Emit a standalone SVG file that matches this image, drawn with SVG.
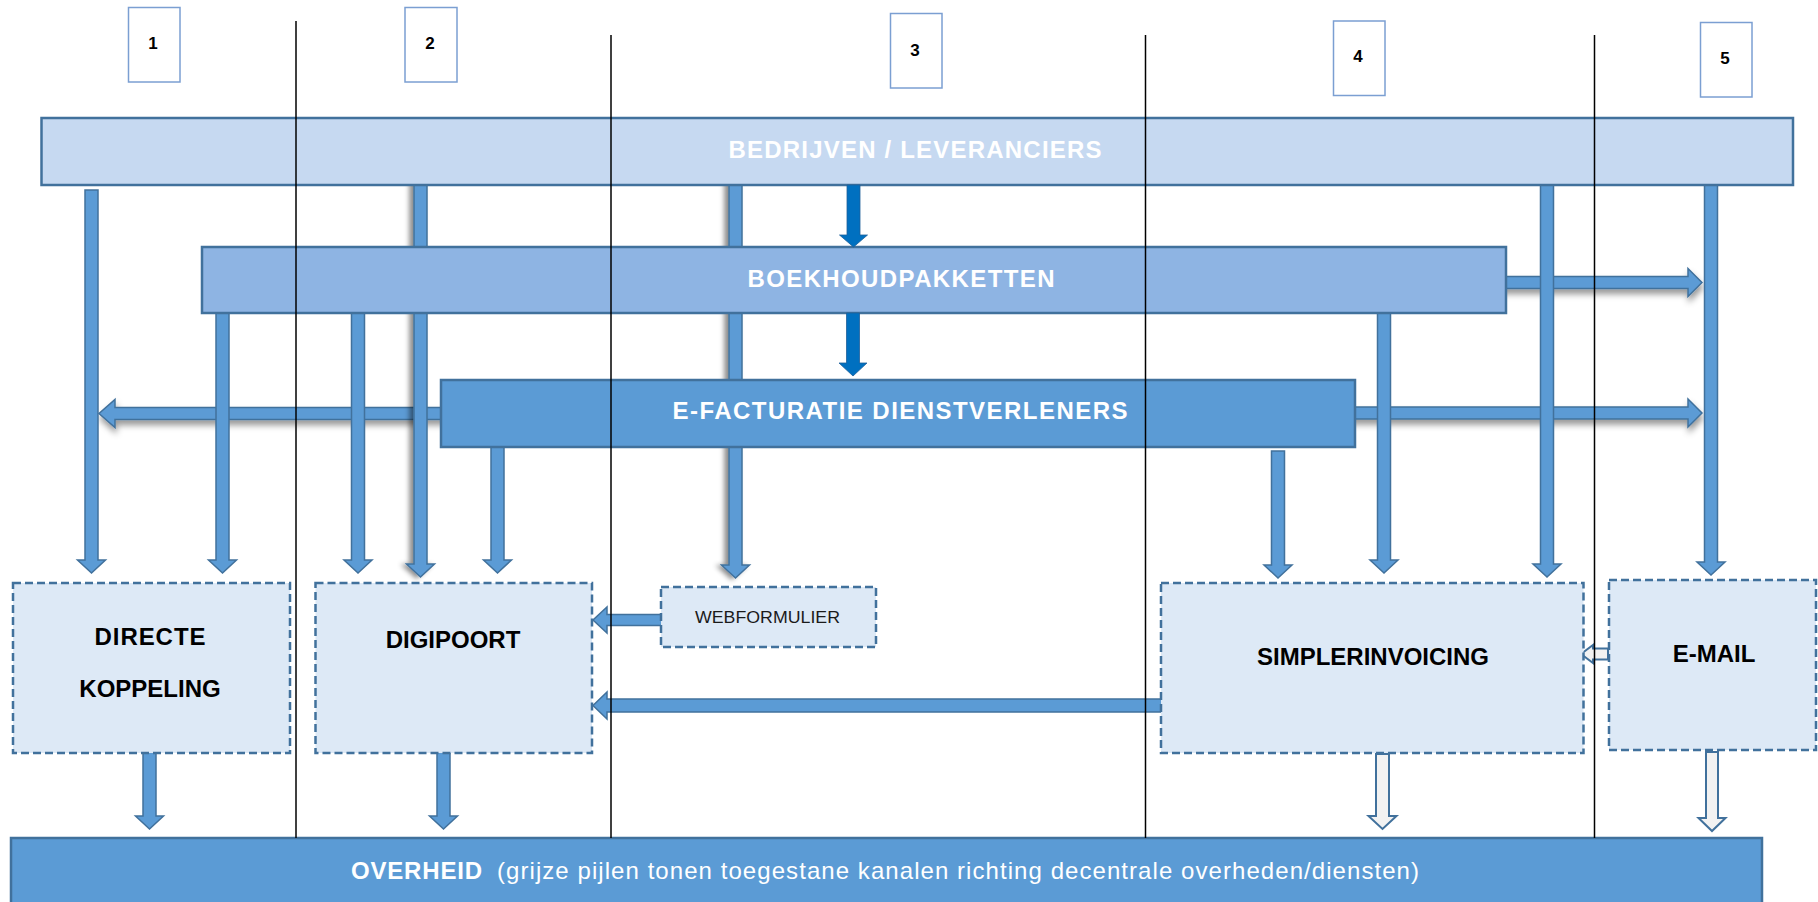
<svg xmlns="http://www.w3.org/2000/svg" width="1818" height="902" viewBox="0 0 1818 902">
<style>
.bar{stroke:#41719c;stroke-width:2.5}
.arr{fill:#5b9bd5;stroke:#41719c;stroke-width:1.5;stroke-linejoin:miter}
.dark{fill:#0070c0;stroke:#1f5f99;stroke-width:0.8}
.hol{fill:#f2f2f2;stroke:#41719c;stroke-width:2}
.dash{fill:#dde9f6;stroke:#41719c;stroke-width:2.5;stroke-dasharray:8 4}
.num{fill:#ffffff;stroke:#7b9fd2;stroke-width:1.5}
.sep{stroke:#000;stroke-width:1.5}
.bt{font-family:"Liberation Sans",Arial,sans-serif;font-weight:bold;font-size:24px;fill:#ffffff;text-anchor:middle}
.nt{font-family:"Liberation Sans",Arial,sans-serif;font-weight:bold;font-size:24px;fill:#000;text-anchor:middle}
.numt{font-family:"Liberation Sans",Arial,sans-serif;font-weight:bold;font-size:17px;fill:#000;text-anchor:middle}
</style>
<defs>
<filter id="shL" x="-200%" y="-10%" width="500%" height="120%"><feDropShadow dx="-4" dy="1" stdDeviation="2.5" flood-color="#000" flood-opacity="0.45"/></filter>
<filter id="shB" x="-5%" y="-100%" width="110%" height="400%"><feDropShadow dx="1" dy="5" stdDeviation="3" flood-color="#000" flood-opacity="0.4"/></filter>
</defs>
<rect width="1818" height="902" fill="#ffffff"/>

<g id="connectors">
<polygon class="arr" filter="url(#shB)" points="1500,276.5 1688,276.5 1688,268.5 1702,282.5 1688,296.5 1688,288.5 1500,288.5"/>
<polygon class="arr" filter="url(#shB)" points="1350,407 1688,407 1688,399 1702,413 1688,427 1688,419 1350,419"/>
<polygon class="arr" filter="url(#shB)" points="445,407.5 115,407.5 115,399.5 99,413.5 115,427.5 115,419.5 445,419.5"/>
<polygon class="arr" points="85,190 98,190 98,560 105.5,560 91.5,573 77.5,560 85,560"/>
<polygon class="arr" points="216,305 229,305 229,560 236.5,560 222.5,573 208.5,560 216,560"/>
<polygon class="arr" points="351.5,305 364.5,305 364.5,560 372,560 358,573 344,560 351.5,560"/>
<polygon class="arr" filter="url(#shL)" points="414,180 427,180 427,564 434.5,564 420.5,577 406.5,564 414,564"/>
<polygon class="arr" points="491,440 504,440 504,560 511.5,560 497.5,573 483.5,560 491,560"/>
<polygon class="arr" filter="url(#shL)" points="729,180 742,180 742,565 749.5,565 735.5,578 721.5,565 729,565"/>
<polygon class="arr" points="1271.5,451 1284.5,451 1284.5,565 1292,565 1278,578 1264,565 1271.5,565"/>
<polygon class="arr" points="1377.5,305 1390.5,305 1390.5,560 1398,560 1384,573 1370,560 1377.5,560"/>
<polygon class="arr" points="1540.5,180 1553.5,180 1553.5,564 1561,564 1547,577 1533,564 1540.5,564"/>
<polygon class="arr" points="1704.5,180 1717.5,180 1717.5,562 1725,562 1711,575 1697,562 1704.5,562"/>
<polygon class="arr" points="662,614.5 607,614.5 607,607 593,620 607,633 607,625.5 662,625.5"/>
<polygon class="arr" points="1163,699 607,699 607,692 593,705.5 607,719 607,712 1163,712"/>
<polygon class="arr" points="143,751 156,751 156,816 163.5,816 149.5,829 135.5,816 143,816"/>
<polygon class="arr" points="437,751 450,751 450,816 457.5,816 443.5,829 429.5,816 437,816"/>
<polygon class="hol" points="1376,754 1389,754 1389,816 1396.5,816 1382.5,829 1368.5,816 1376,816"/>
<polygon class="hol" points="1706,752 1718,752 1718,818 1725.5,818 1712,831 1698.5,818 1706,818"/>
<polygon class="hol" points="1608,648.5 1593,648.5 1593,645 1581,654 1593,663 1593,659.5 1608,659.5"/>
</g>

<g id="bedrijven">
<rect class="bar" x="41.5" y="118" width="1751.5" height="67" fill="#c6d9f1"/>
<text class="bt" x="915" y="158" textLength="373" lengthAdjust="spacing" fill="#f7f9fd">BEDRIJVEN  / LEVERANCIERS</text>
</g>
<g id="boekhoud">
<rect class="bar" x="202" y="247" width="1304" height="66" fill="#8eb4e3"/>
<text class="bt" x="901" y="287" textLength="307" lengthAdjust="spacing">BOEKHOUDPAKKETTEN</text>
</g>
<g id="efacturatie">
<rect class="bar" x="441" y="380" width="914" height="67" fill="#5b9bd5"/>
<text class="bt" x="900" y="419" textLength="455" lengthAdjust="spacing">E-FACTURATIE  DIENSTVERLENERS</text>
</g>
<g id="overheid">
<rect class="bar" x="11" y="838" width="1751" height="70" fill="#5b9bd5"/>
<text font-family="Liberation Sans, Arial, sans-serif" font-size="24" fill="#ffffff"><tspan x="351" y="879" font-weight="bold" textLength="131" lengthAdjust="spacing">OVERHEID</tspan><tspan x="497" y="879" textLength="922" lengthAdjust="spacing">(grijze pijlen tonen toegestane kanalen richting decentrale overheden/diensten)</tspan></text>
</g>

<g id="dark-arrows">
<polygon class="dark" points="847,185 860,185 860,235 867.5,235 853.5,247 839.5,235 847,235"/>
<polygon class="dark" points="846.5,313 859.5,313 859.5,363 867,363 853,376 839,363 846.5,363"/>
</g>

<g id="directe">
<rect class="dash" x="13" y="583" width="277" height="170"/>
<text class="nt" x="150" y="645" textLength="111" lengthAdjust="spacing">DIRECTE</text>
<text class="nt" x="150" y="697">KOPPELING</text>
</g>
<g id="digipoort">
<rect class="dash" x="315.5" y="583" width="276.5" height="170"/>
<text class="nt" x="453" y="648">DIGIPOORT</text>
</g>
<g id="webformulier">
<rect class="dash" x="661" y="587" width="215" height="60"/>
<text font-family="Liberation Sans, Arial, sans-serif" font-size="17" fill="#1a1a1a" text-anchor="middle" x="767.5" y="623" textLength="145" lengthAdjust="spacingAndGlyphs">WEBFORMULIER</text>
</g>
<g id="simplerinvoicing">
<rect class="dash" x="1161" y="583" width="422.5" height="170"/>
<text class="nt" x="1373" y="665">SIMPLERINVOICING</text>
</g>
<g id="email">
<rect class="dash" x="1609" y="580" width="207" height="170"/>
<text class="nt" x="1714" y="662">E-MAIL</text>
</g>

<g id="numbers">
<rect class="num" x="128.5" y="7.5" width="51.5" height="74.5"/><text class="numt" x="153" y="49">1</text>
<rect class="num" x="405" y="7.5" width="52" height="74.5"/><text class="numt" x="430" y="49">2</text>
<rect class="num" x="890.5" y="13.5" width="51.5" height="74.5"/><text class="numt" x="915" y="56">3</text>
<rect class="num" x="1333.5" y="21" width="51.5" height="74.5"/><text class="numt" x="1358" y="62">4</text>
<rect class="num" x="1700.5" y="22.5" width="51.5" height="74.5"/><text class="numt" x="1725" y="64">5</text>
</g>

<g id="separators">
<line class="sep" x1="296" y1="21" x2="296" y2="838"/>
<line class="sep" x1="611" y1="35" x2="611" y2="838"/>
<line class="sep" x1="1145.5" y1="35" x2="1145.5" y2="838"/>
<line class="sep" x1="1594.5" y1="35" x2="1594.5" y2="838"/>
</g>
</svg>
